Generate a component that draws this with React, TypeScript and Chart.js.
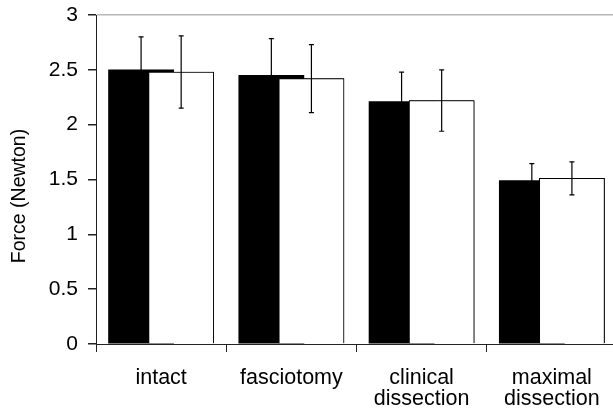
import React, { useEffect, useRef } from "react";
import { Chart, registerables } from "chart.js";

Chart.register(...registerables);

const categories: string[][] = [["intact"], ["fasciotomy"], ["clinical", "dissection"], ["maximal", "dissection"]];
const blackValues = [2.5, 2.45, 2.21, 1.49];
const blackErrors = [0.3, 0.335, 0.27, 0.155];
const whiteValues = [2.48, 2.42, 2.22, 1.51];
const whiteErrors = [0.33, 0.31, 0.28, 0.15];
const yTicks = [0, 0.5, 1, 1.5, 2, 2.5, 3];
const yTickLabels = ["0", "0.5", "1", "1.5", "2", "2.5", "3"];
const yTitle = "Force (Newton)";

const FONT = '"Liberation Sans", Arial, Helvetica, sans-serif';

const errorBarPlugin = {
  id: "errorBars",
  afterDatasetsDraw(chart: any) {
    // draw the white series again so it lies over the black one
    const whiteMeta = chart.getDatasetMeta(1);
    whiteMeta.controller.draw();
    const ctx = chart.ctx;
    const yScale = chart.scales.y;
    const errs = [blackErrors, whiteErrors];
    const vals = [blackValues, whiteValues];
    ctx.save();
    ctx.strokeStyle = "#000";
    ctx.lineWidth = 1.2;
    for (let d = 0; d < 2; d++) {
      const meta = chart.getDatasetMeta(d);
      meta.data.forEach((bar: any, i: number) => {
        const x = bar.x;
        const top = yScale.getPixelForValue(vals[d][i] + errs[d][i]);
        const bot = yScale.getPixelForValue(vals[d][i] - errs[d][i]);
        ctx.beginPath();
        ctx.moveTo(x, top);
        ctx.lineTo(x, bot);
        ctx.moveTo(x - 2.5, top);
        ctx.lineTo(x + 2.5, top);
        ctx.moveTo(x - 2.5, bot);
        ctx.lineTo(x + 2.5, bot);
        ctx.stroke();
      });
    }
    ctx.restore();
  },
  afterDraw(chart: any) {
    const ctx = chart.ctx;
    ctx.save();
    ctx.translate(20, 196);
    ctx.rotate(-Math.PI / 2);
    ctx.font = `19.5px ${FONT}`;
    ctx.fillStyle = "#000";
    ctx.textAlign = "center";
    ctx.textBaseline = "middle";
    ctx.fillText(yTitle, 0, 0);
    ctx.restore();
  },
};

export default function App() {
  const canvasRef = useRef<HTMLCanvasElement | null>(null);

  useEffect(() => {
    if (!canvasRef.current) return;
    const chart = new Chart(canvasRef.current, {
      type: "bar",
      data: {
        labels: categories,
        datasets: [
          {
            label: "black",
            data: blackValues,
            backgroundColor: "#000",
            borderWidth: 0,
            barPercentage: 1.625,
            categoryPercentage: 80 / 130,
          },
          {
            label: "white",
            data: whiteValues,
            backgroundColor: "#fff",
            borderColor: "#000",
            borderWidth: 1,
            borderSkipped: "bottom",
            barPercentage: 1.625,
            categoryPercentage: 80 / 130,
          },
        ],
      },
      options: {
        responsive: false,
        animation: false,
        events: [],
        layout: { padding: { top: 15, left: 0, right: 0, bottom: 0 } },
        plugins: {
          legend: { display: false },
          tooltip: { enabled: false },
          title: { display: false },
        },
        scales: {
          x: {
            type: "category",
            offset: true,
            grid: {
              offset: true,
              drawOnChartArea: false,
              drawTicks: true,
              tickLength: 8,
              tickColor: "#222",
              color: "#222",
            },
            border: { display: true, color: "#222", width: 1 },
            ticks: {
              color: "#000",
              padding: 16,
              maxRotation: 0,
              autoSkip: false,
              font: { family: FONT, size: 21.5, lineHeight: 0.95 },
            },
            afterFit(scale: any) {
              scale.height = 72;
              scale.paddingLeft = 0;
              scale.paddingRight = 0;
            },
          },
          y: {
            type: "linear",
            min: 0,
            max: 3,
            afterBuildTicks(scale: any) {
              scale.ticks = yTicks.map((v) => ({ value: v }));
            },
            grid: {
              drawOnChartArea: true,
              drawTicks: true,
              tickLength: 8,
              tickColor: "#222",
              color: (c: any) => (c.tick && c.tick.value === 3 ? "#b8b8b8" : "rgba(0,0,0,0)"),
              lineWidth: 1.5,
            },
            border: { display: true, color: "#222", width: 1 },
            ticks: {
              color: "#000",
              padding: 10,
              font: { family: FONT, size: 21 },
              callback: (_v: any, i: number) => yTickLabels[i],
            },
            afterFit(scale: any) {
              scale.width = 96;
              scale.paddingTop = 0;
              scale.paddingBottom = 0;
            },
          },
        },
      },
      plugins: [errorBarPlugin],
    });
    return () => chart.destroy();
  }, []);

  return (
    <div
      style={{
        position: "fixed",
        left: 0,
        top: 0,
        width: 613,
        height: 416,
        overflow: "hidden",
        background: "#fff",
      }}
    >
      <canvas ref={canvasRef} width={617} height={416} style={{ display: "block", width: 617, height: 416 }} />
    </div>
  );
}
